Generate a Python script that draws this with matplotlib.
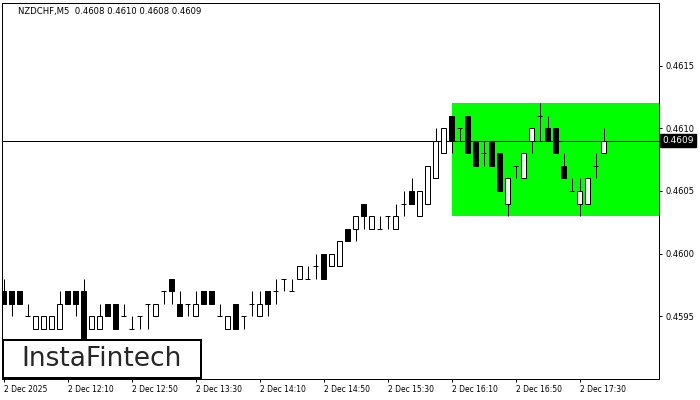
import matplotlib
matplotlib.use("Agg")
import matplotlib.pyplot as plt
from matplotlib.patches import Rectangle
import matplotlib.transforms as mtransforms

title = "NZDCHF,M5  0.4608 0.4610 0.4608 0.4609"

opens = [0.4597,0.4597,0.4597,0.4595,0.4594,0.4594,0.4594,0.4594,0.4597,0.4597,
         0.4597,0.4594,0.4594,0.4596,0.4596,0.4595,0.4594,0.4595,0.4596,0.4595,
         0.4597,0.4598,0.4596,0.4596,0.4595,0.4597,0.4597,0.4595,0.4594,0.4596,
         0.4595,0.4596,0.4595,0.4597,0.4597,0.4598,0.4597,0.4598,0.4598,0.4599,
         0.4600,0.4599,0.4599,0.4602,0.4602,0.4604,0.4602,0.4602,0.4603,0.4602,
         0.4604,0.4605,0.4603,0.4604,0.4606,0.4608,0.4611,0.4610,0.4611,0.4609,
         0.4608,0.4609,0.4608,0.4604,0.4607,0.4606,0.4609,0.4611,0.4610,0.4610,
         0.4607,0.4605,0.4604,0.4604,0.4607,0.4608]
highs = [0.4598,0.4597,0.4597,0.4596,0.4595,0.4595,0.4595,0.4597,0.4597,0.4597,
         0.4598,0.4595,0.4596,0.4596,0.4596,0.4596,0.4595,0.4595,0.4596,0.4596,
         0.4597,0.4598,0.4597,0.4596,0.4597,0.4597,0.4597,0.4596,0.4595,0.4596,
         0.4595,0.4597,0.4597,0.4597,0.4598,0.4598,0.4598,0.4599,0.4599,0.4600,
         0.4600,0.4600,0.4601,0.4602,0.4603,0.4604,0.4603,0.4603,0.4603,0.4604,
         0.4605,0.4606,0.4605,0.4607,0.4610,0.4610,0.4611,0.4610,0.4611,0.4609,
         0.4609,0.4609,0.4608,0.4606,0.4607,0.4608,0.4610,0.4612,0.4611,0.4610,
         0.4608,0.4606,0.4606,0.4606,0.4608,0.4610]
lows = [0.4596,0.4595,0.4596,0.4595,0.4594,0.4594,0.4594,0.4594,0.4596,0.4595,
        0.4592,0.4594,0.4594,0.4595,0.4594,0.4595,0.4594,0.4594,0.4594,0.4595,
        0.4596,0.4596,0.4595,0.4595,0.4595,0.4596,0.4596,0.4595,0.4594,0.4594,
        0.4594,0.4595,0.4595,0.4595,0.4596,0.4597,0.4597,0.4598,0.4598,0.4598,
        0.4598,0.4599,0.4599,0.4601,0.4601,0.4602,0.4602,0.4602,0.4602,0.4602,
        0.4603,0.4604,0.4603,0.4604,0.4606,0.4608,0.4608,0.4609,0.4608,0.4607,
        0.4607,0.4607,0.4605,0.4603,0.4606,0.4606,0.4608,0.4609,0.4609,0.4608,
        0.4606,0.4605,0.4603,0.4604,0.4606,0.4608]
closes = [0.4596,0.4596,0.4596,0.4595,0.4595,0.4595,0.4595,0.4596,0.4596,0.4596,
          0.4593,0.4595,0.4595,0.4595,0.4594,0.4595,0.4594,0.4595,0.4596,0.4596,
          0.4597,0.4597,0.4595,0.4596,0.4596,0.4596,0.4596,0.4595,0.4595,0.4594,
          0.4595,0.4596,0.4596,0.4596,0.4597,0.4598,0.4597,0.4599,0.4598,0.4599,
          0.4598,0.4600,0.4601,0.4601,0.4603,0.4603,0.4603,0.4602,0.4603,0.4603,
          0.4604,0.4604,0.4605,0.4607,0.4609,0.4610,0.4609,0.4610,0.4608,0.4607,
          0.4608,0.4607,0.4605,0.4606,0.4607,0.4608,0.4610,0.4611,0.4609,0.4608,
          0.4606,0.4605,0.4605,0.4606,0.4607,0.4609]

xtick_idx = [0, 8, 16, 24, 32, 40, 48, 56, 64, 72]
xtick_labels = ["2 Dec 2025", "2 Dec 12:10", "2 Dec 12:50", "2 Dec 13:30",
                "2 Dec 14:10", "2 Dec 14:50", "2 Dec 15:30", "2 Dec 16:10",
                "2 Dec 16:50", "2 Dec 17:30"]
ytick_vals = [0.4595, 0.4600, 0.4605, 0.4610, 0.4615]
current_price = 0.4609
zone_start = 56
zone_low, zone_high = 0.4603, 0.4612
green = "#00ff00"

W, H = 700, 400
fig = plt.figure(figsize=(7, 4), dpi=100)
L, R, T, B = 2, 659, 3, 379
ax = fig.add_axes([L / W, 1 - B / H, (R - L) / W, (B - T) / H])
xmin = (L - 3.5) / 8
xmax = (R - 3.5) / 8
ax.set_xlim(xmin, xmax)
ax.set_ylim(0.4590, 0.4620)

px = 0.72  # 1 pixel in points

# green zone
ax.add_patch(Rectangle((zone_start, zone_low), xmax - zone_start, zone_high - zone_low,
                       facecolor=green, edgecolor="none", zorder=1))
# current price line
ax.axhline(current_price, color="black", lw=px, zorder=2)

n = len(opens)
xs = list(range(n))
bw = 0.56
ax.vlines(xs, lows, highs, color="black", lw=px, zorder=3)

for i in xs:
    o, c = opens[i], closes[i]
    if abs(o - c) < 1e-9:
        ax.hlines(o, i - bw / 2 - 0.06, i + bw / 2 + 0.06, color="black", lw=px, zorder=4)
    else:
        bottom = min(o, c)
        h = abs(o - c)
        fc = "black" if c < o else "white"
        ax.bar(i, h, bottom=bottom, width=bw, facecolor=fc, edgecolor="black",
               linewidth=px, zorder=4)

for s in ax.spines.values():
    s.set_color("black")
    s.set_linewidth(px)

ax.yaxis.tick_right()
ax.set_yticks(ytick_vals)
ax.set_yticklabels([f"{v:.4f}" for v in ytick_vals])
ax.tick_params(axis="y", direction="out", length=2.5, width=px, pad=2.5,
               labelsize=6, colors="black")
ax.set_xticks(xtick_idx)
ax.set_xticklabels(xtick_labels)
ax.tick_params(axis="x", direction="out", length=2.5, width=px, pad=2,
               labelsize=5.5, colors="black")
for lab in ax.get_xticklabels():
    lab.set_horizontalalignment("left")

# current price label
trans = mtransforms.blended_transform_factory(ax.transAxes, ax.transData)
ax.text(1.005, current_price, f"{current_price:.4f}", transform=trans, ha="left",
        va="center", fontsize=6.5, color="white", zorder=10, clip_on=False,
        bbox=dict(boxstyle="square,pad=0.22", facecolor="black", edgecolor="black"))

# header
fig.text(18 / W, 1 - 11.5 / H, title, fontsize=6.1, color="black", ha="left", va="center")

# logo box
bx0, bx1, by0, by1 = 3, 201, 340, 378
ax.add_patch(Rectangle(((bx0 - L) / (R - L), (B - by1) / (B - T)),
                       (bx1 - bx0) / (R - L), (by1 - by0) / (B - T),
                       transform=ax.transAxes, facecolor="white", edgecolor="black",
                       linewidth=2 * px, zorder=20, clip_on=False))
ax.text(((bx0 + bx1) / 2 - L) / (R - L), (B - 359) / (B - T), "InstaFintech",
        transform=ax.transAxes, ha="center", va="center", fontsize=19,
        color="#262626", family="DejaVu Sans", zorder=21)

fig.savefig("out.png", dpi=100, facecolor="white")
